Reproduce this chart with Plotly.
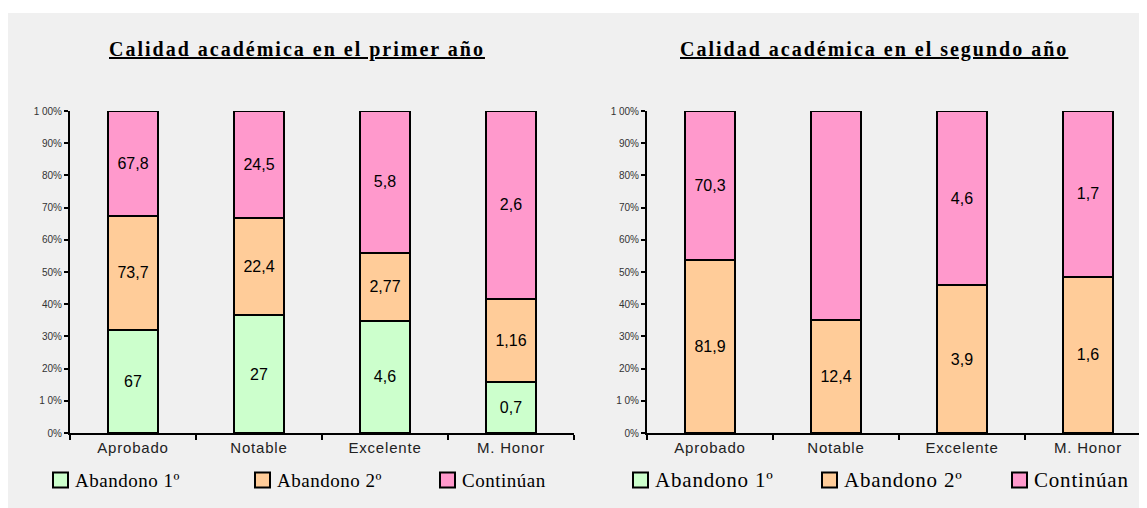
import plotly.graph_objects as go

# ---------------- data ----------------
categories = ["Aprobado", "Notable", "Excelente", "M. Honor"]
series_names = ["Abandono 1º", "Abandono 2º", "Continúan"]
series_colors = ["#CCFFCC", "#FFCC99", "#FF99CC"]

year1_abandono1 = [67, 27, 4.6, 0.7]
year1_abandono2 = [73.7, 22.4, 2.77, 1.16]
year1_continuan = [67.8, 24.5, 5.8, 2.6]

year2_abandono1 = [0, 0, 0, 0]
year2_abandono2 = [81.9, 12.4, 3.9, 1.6]
year2_continuan = [70.3, 22.9, 4.6, 1.7]

titles = ["Calidad académica en el primer año", "Calidad académica en el segundo año"]
y_tick_values = [0, 10, 20, 30, 40, 50, 60, 70, 80, 90, 100]
y_tick_labels = ["0%", "1 0%", "20%", "30%", "40%", "50%", "60%", "70%", "80%", "90%", "1 00%"]

# page body has an 8px margin: figure is sized so it ends at the window edge
OFF = 8
W, H = 1147 - OFF, 508 - OFF
SANS = "Liberation Sans, Arial, sans-serif"
SERIF = "Liberation Serif, Times New Roman, serif"


def fmt(v):
    if v == 0:
        return ""
    return f"{v:g}".replace(".", ",")


def px_x(p):
    """screen x pixel -> paper fraction"""
    return (p - OFF) / W


def px_y(p):
    """screen y pixel -> paper fraction"""
    return (H - (p - OFF)) / H


fig = go.Figure()

panels = [
    ("x", "y", [year1_abandono1, year1_abandono2, year1_continuan]),
    ("x2", "y2", [year2_abandono1, year2_abandono2, year2_continuan]),
]
for xa, ya, series in panels:
    for name, color, vals in zip(series_names, series_colors, series):
        fig.add_trace(go.Bar(
            x=categories, y=vals, xaxis=xa, yaxis=ya, name=name,
            showlegend=False,
            marker=dict(color=color, line=dict(color="black", width=2)),
            text=[fmt(v) for v in vals],
            textposition="inside", insidetextanchor="middle", textangle=0,
            textfont=dict(family=SANS, size=16, color="black"),
            cliponaxis=False,
            hoverinfo="skip",
        ))

y_dom = [px_y(433), px_y(111)]

axis_common_y = dict(
    range=[0, 100], tickvals=y_tick_values, ticktext=y_tick_labels,
    showline=True, linecolor="black", linewidth=2, ticks="outside",
    ticklen=4, tickwidth=1.5, tickcolor="black", showgrid=False, zeroline=False,
    tickfont=dict(family=SANS, size=10, color="#333333"), domain=y_dom,
)
axis_common_x = dict(
    type="category", showline=True, linecolor="black", linewidth=2,
    ticks="outside", tickson="boundaries", ticklen=5, tickwidth=1.5, tickcolor="black",
    showgrid=False, zeroline=False,
    tickvals=categories,
    ticktext=[f'<span style="letter-spacing:0.8px">{c}</span>' for c in categories],
    tickfont=dict(family=SANS, size=15, color="#222222"),
)

# right chart's x axis runs past the window edge: range chosen so it ends there
right_end = -0.5 + (1147 - 647) / 126.0

shapes = [dict(type="rect", xref="paper", yref="paper", x0=0, x1=1.0,
               y0=0, y1=px_y(13), fillcolor="#f0f0f0", line=dict(width=0), layer="below")]

fig.update_layout(
    width=W, height=H,
    margin=dict(l=0, r=0, t=0, b=0, autoexpand=False),
    paper_bgcolor="white", plot_bgcolor="#f5f5f5",
    barmode="stack", barnorm="percent", bargap=0.61,
    showlegend=False,
    xaxis=dict(axis_common_x, domain=[px_x(70), px_x(574)], range=[-0.5, 3.5], anchor="y"),
    yaxis=dict(axis_common_y, anchor="x"),
    xaxis2=dict(axis_common_x, domain=[px_x(647), 1.0], range=[-0.5, right_end], anchor="y2"),
    yaxis2=dict(axis_common_y, anchor="x2"),
)

# titles
for t, cx in zip(titles, [297, 874]):
    fig.add_annotation(
        text=f'<span style="letter-spacing:2px"><b><u>{t}</u></b></span>',
        xref="paper", yref="paper", x=px_x(cx), y=px_y(50),
        xanchor="center", yanchor="middle", showarrow=False,
        font=dict(family=SERIF, size=20, color="black"),
    )

# legends (one row under each chart)
legend_rows = [
    ([53, 255, 440], 19, 0.5),
    ([633, 822, 1012], 21, 0.8),
]
ICON = 15
LEG_Y = 480
for lefts, fsize, spacing in legend_rows:
    for name, color, lx in zip(series_names, series_colors, lefts):
        shapes.append(dict(
            type="rect", xref="paper", yref="paper",
            x0=px_x(lx), x1=px_x(lx + ICON),
            y0=px_y(LEG_Y + ICON / 2), y1=px_y(LEG_Y - ICON / 2),
            fillcolor=color, line=dict(color="black", width=2),
        ))
        fig.add_annotation(
            text=f'<span style="letter-spacing:{spacing}px">{name}</span>',
            xref="paper", yref="paper", x=px_x(lx + ICON + 5), y=px_y(LEG_Y),
            xanchor="left", yanchor="middle", showarrow=False,
            font=dict(family=SERIF, size=fsize, color="black"),
        )

fig.update_layout(shapes=shapes)

fig.write_html("out.html")
